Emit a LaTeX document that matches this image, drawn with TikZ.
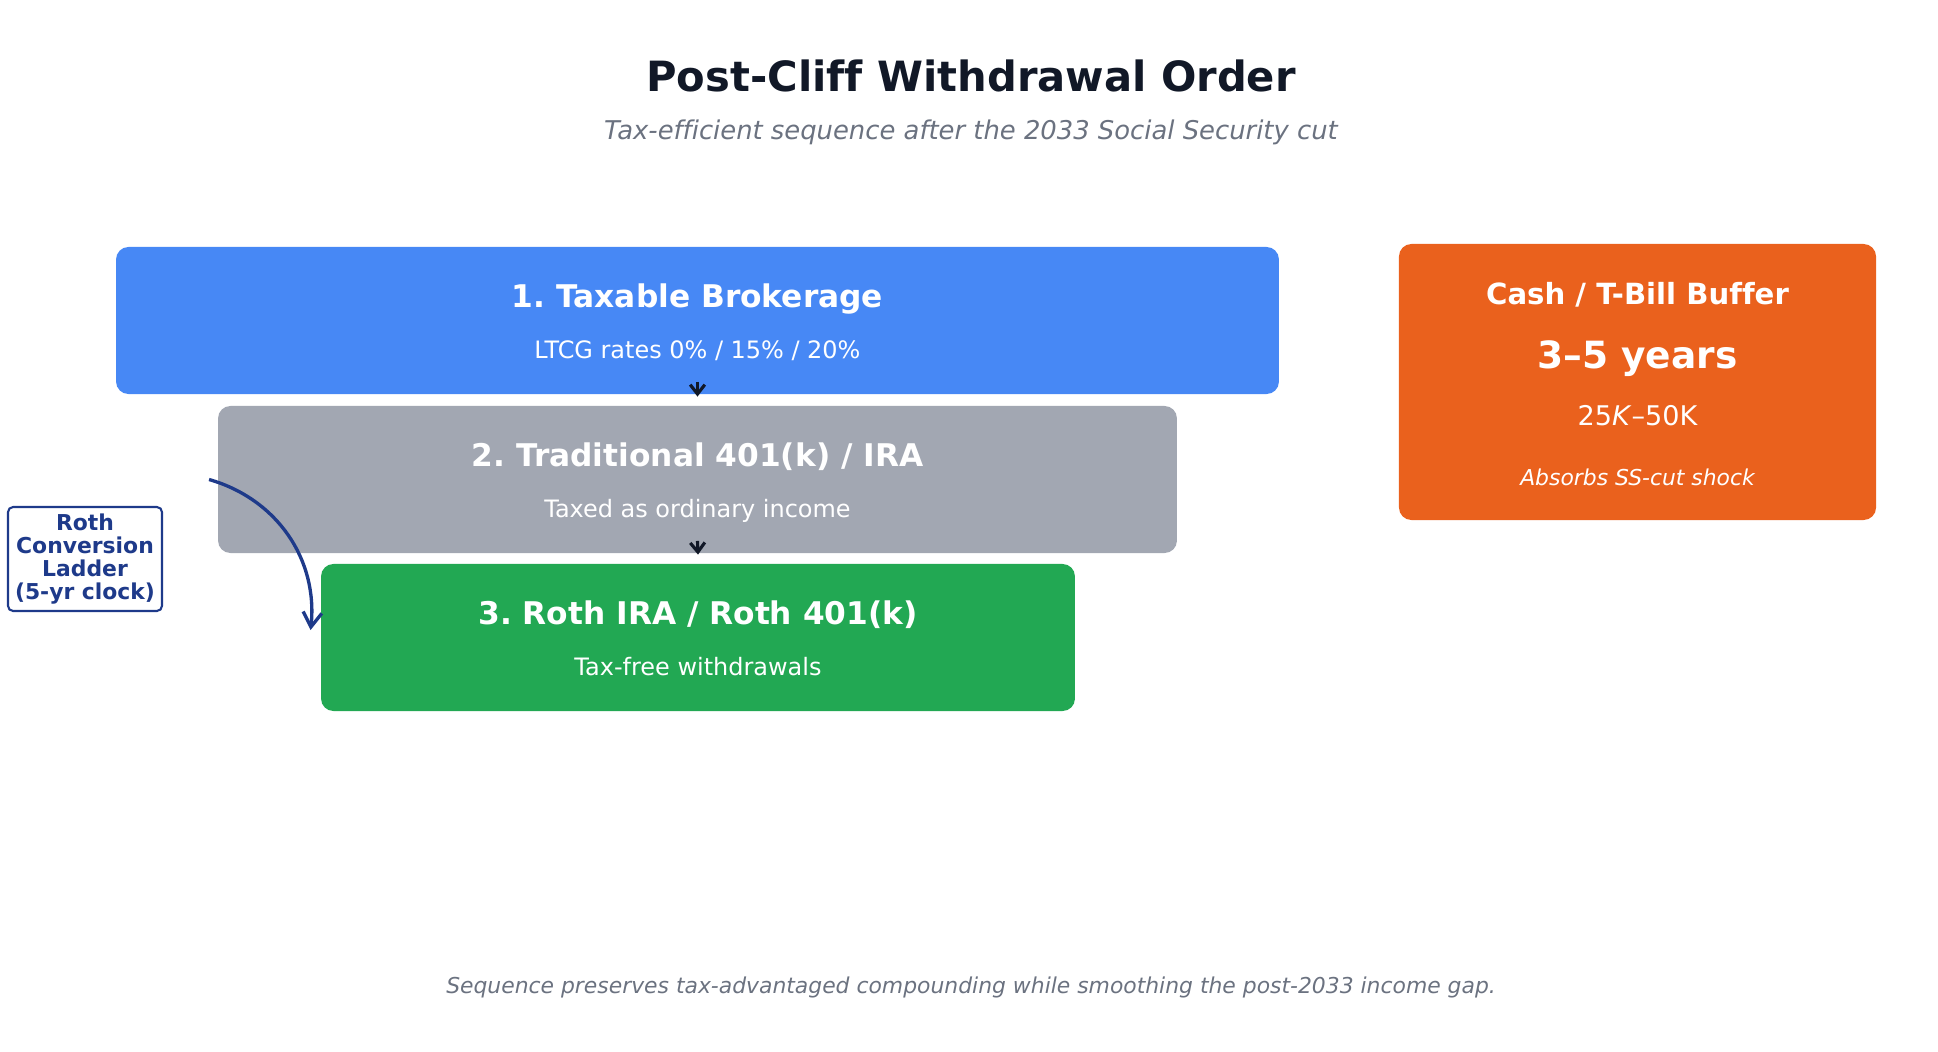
\documentclass[tikz,border=0pt]{standalone}
\usepackage{fontspec}
\setmainfont{DejaVu Sans}[Ligatures={TeX,NoCommon}]
\usetikzlibrary{arrows.meta}
\definecolor{ink}{HTML}{111827}
\definecolor{muted}{HTML}{6B7280}
\definecolor{navy}{HTML}{1E3A8A}
\definecolor{brokblue}{HTML}{4788F5}
\definecolor{tradgray}{HTML}{A2A7B2}
\definecolor{rothgreen}{HTML}{22A853}
\definecolor{cashorange}{HTML}{EA611D}
\frenchspacing

\begin{document}
\begin{tikzpicture}[x=0.48pt,y=-0.48pt,
    tier/.style={rounded corners=6pt,inner sep=0pt,minimum height=70.6pt},
    tiertitle/.style={anchor=base,text=white,font=\fontsize{15}{18}\selectfont\bfseries},
    tiernote/.style={anchor=base,text=white,font=\fontsize{11.5}{14}\selectfont},
    steparrow/.style={-{Straight Barb[length=4.5pt,width=7pt]},line width=1.5pt,draw=ink},
    ladder/.style={-{Straight Barb[length=7pt,width=9pt]},line width=1.6pt,draw=navy}]
    \useasboundingbox (0,0) rectangle (1938,1052);
    \node[anchor=base,text=ink,font=\fontsize{20}{24}\selectfont\bfseries] (title) at (971,91) {Post-Cliff Withdrawal Order};
    \node[anchor=base,text=muted,font=\fontsize{12.4}{15}\selectfont\itshape] (subtitle) at (971,139) {Tax-efficient sequence after the 2033 Social Security cut};
    \node[tier,fill=brokblue,minimum width=558.2pt] (b1) at (697.5,320.5) {};
    \node[tier,fill=tradgray,minimum width=460.3pt] (b2) at (697.5,479.5) {};
    \node[tier,fill=rothgreen,minimum width=361.9pt] (b3) at (698,637.5) {};
    \node[tiertitle] at ([yshift=6.3pt]b1.center) {1. Taxable Brokerage};
    \node[tiernote] at ([yshift=-18.2pt]b1.center) {LTCG rates 0\% / 15\% / 20\%};
    \node[tiertitle] at ([yshift=6.3pt]b2.center) {2. Traditional 401(k) / IRA};
    \node[tiernote] at ([yshift=-18.2pt]b2.center) {Taxed as ordinary income};
    \node[tiertitle] at ([yshift=6.3pt]b3.center) {3. Roth IRA / Roth 401(k)};
    \node[tiernote] at ([yshift=-18.2pt]b3.center) {Tax-free withdrawals};
    \draw[steparrow] ([yshift=6pt]b1.south) -- ([yshift=4.3pt]b2.north);
    \draw[steparrow] ([yshift=6pt]b2.south) -- ([yshift=4.3pt]b3.north);
    \node[rounded corners=6pt,fill=cashorange,inner sep=0pt,minimum width=229pt,minimum height=132.5pt] (cash) at (1637.5,382) {};
    \node[anchor=base,text=white,font=\fontsize{14}{17}\selectfont\bfseries] at ([yshift=37pt]cash.center) {Cash / T-Bill Buffer};
    \node[anchor=base,text=white,font=\fontsize{18}{22}\selectfont\bfseries] at ([yshift=6.6pt]cash.center) {3–5 years};
    \node[anchor=base,text=white,font=\fontsize{13}{16}\selectfont] at ([yshift=-21.1pt]cash.center) {25\textit{K}–50K};
    \node[anchor=base,text=white,font=\fontsize{10.5}{13}\selectfont\itshape] at ([yshift=-49.9pt]cash.center) {Absorbs SS-cut shock};
    \node[draw=navy,line width=1pt,fill=white,rounded corners=2.4pt,inner sep=0pt,minimum width=73.9pt,minimum height=49.9pt,
        align=center,text=navy,font=\fontsize{10.5}{11.1}\selectfont\bfseries] (roth) at (85,559) {Roth\\Conversion\\Ladder\\(5-yr clock)};
    \draw[ladder] ([xshift=-4.1pt]b2.west) to[bend left=40] ([xshift=-4.8pt,yshift=3.6pt]b3.west);
    \node[anchor=base,text=muted,font=\fontsize{10.5}{13}\selectfont\itshape] (footer) at (971,993) {Sequence preserves tax-advantaged compounding while smoothing the post-2033 income gap.};
\end{tikzpicture}
\end{document}
